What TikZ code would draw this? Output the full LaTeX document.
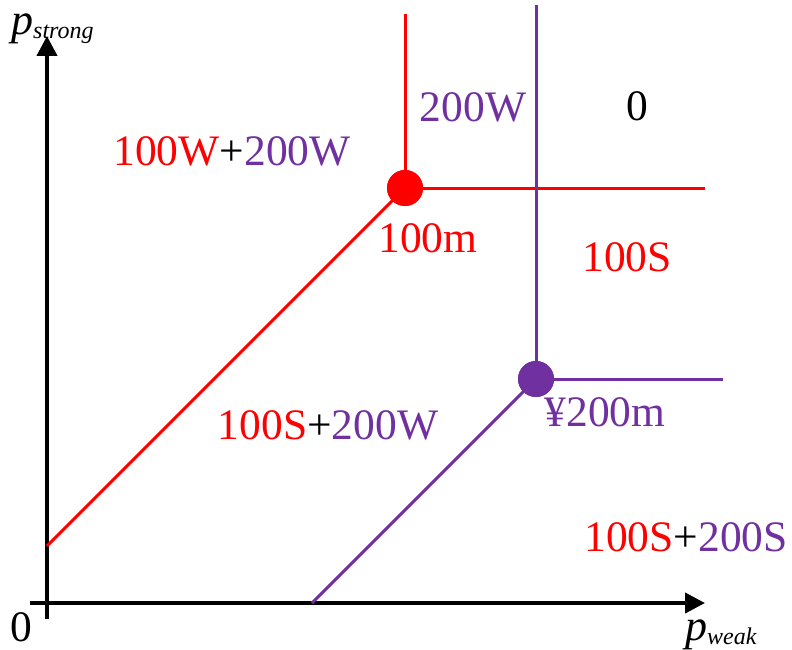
\documentclass[tikz,border=0pt]{standalone}
\usepackage{fontspec}
\setmainfont{Liberation Serif}
\usetikzlibrary{arrows.meta}
\definecolor{pur}{HTML}{7030A0}
\definecolor{rd}{HTML}{FF0000}
\begin{document}
\begin{tikzpicture}[x=1pt,y=-1pt,
  axis/.style={line width=4pt,black},
  rline/.style={line width=3pt,rd},
  pline/.style={line width=3pt,pur},
  lbl/.style={inner sep=0pt,font=\fontsize{43.5}{46}\selectfont},
  dot/.style={circle,inner sep=0pt,minimum size=36pt}]
\useasboundingbox (0,0) rectangle (792,650);
% axes
\coordinate (ybot) at (47,619);
\coordinate (ytop) at (47,36);
\coordinate (xleft) at (30,603);
\coordinate (xright) at (705,603);
\draw[axis,-{Triangle[length=20pt,width=20pt]}] (ybot) -- (ytop);
\draw[axis,-{Triangle[length=20pt,width=20pt]}] (xleft) -- (xright);
% red lines
\node[dot,fill=rd] (rdot) at (405,188) {};
\coordinate (rtop) at (405,14);
\coordinate (rright) at (705,188);
\coordinate (rleft) at (47,546);
\draw[rline] (rdot.center) -- (rtop);
\draw[rline] (rdot.center) -- (rright);
\draw[rline] (rdot.center) -- (rleft);
% purple lines
\coordinate (ptop) at (536,5);
\coordinate (pright) at (723,379);
\coordinate (pleft) at (312,603);
\node[dot,fill=pur] (pdot) at (536,379) {};
\draw[pline] (pdot.center) -- (ptop);
\draw[pline] (pdot.center) -- (pright);
\draw[pline] (pdot.center) -- (pleft);
\node[dot,fill=pur] at (536,379) {};
\node[dot,fill=rd] at (405,188) {};
% axis labels
\node[lbl,anchor=base west] (ps) at (11,35) {\fontsize{44}{46}\selectfont\itshape p\raisebox{-4pt}{\fontsize{24}{26}\selectfont strong}};
\node[lbl,anchor=base west] (pw) at (685,640) {\fontsize{44}{46}\selectfont\itshape p\raisebox{-4pt}{\fontsize{24}{26}\selectfont weak}};
\node[lbl,anchor=base] (zero) at (21,641) {0};
% region labels
\node[lbl,anchor=base] (a) at (232,165) {\textcolor{rd}{100W}+\textcolor{pur}{200W}};
\node[lbl,anchor=base,text=pur] (b) at (473,122) {200W};
\node[lbl,anchor=base] (c) at (637,121) {0};
\node[lbl,anchor=base,text=rd] (d) at (428,252) {100m};
\node[lbl,anchor=base,text=rd] (e) at (627,271) {100S};
\node[lbl,anchor=base] (f) at (328,439) {\textcolor{rd}{100S}+\textcolor{pur}{200W}};
\node[lbl,anchor=base,text=pur] (g) at (605,426) {¥200m};
\node[lbl,anchor=base] (h) at (686,551) {\textcolor{rd}{100S}+\textcolor{pur}{200S}};
\end{tikzpicture}
\end{document}
